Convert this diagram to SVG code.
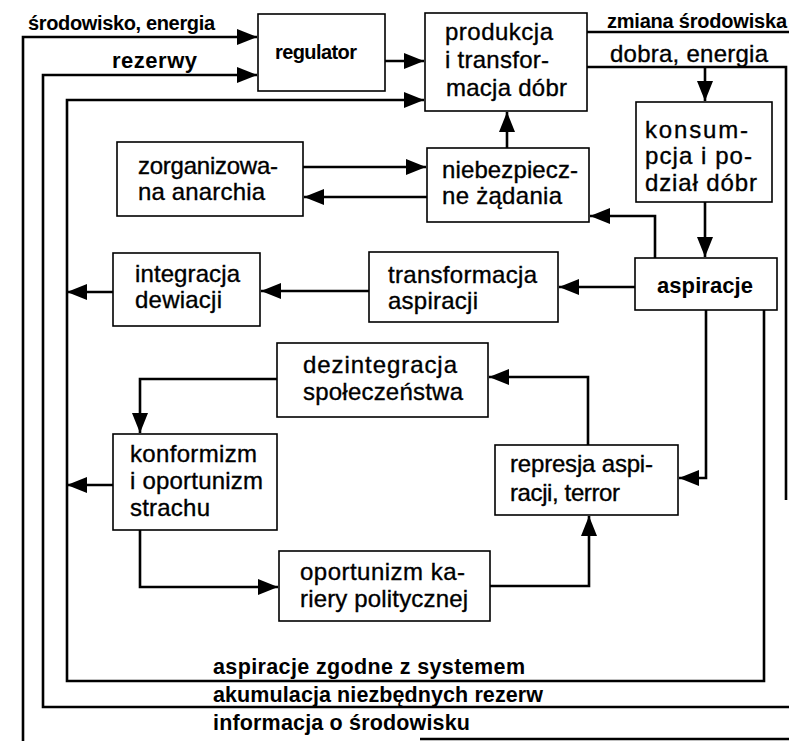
<svg xmlns="http://www.w3.org/2000/svg" width="789" height="741" viewBox="0 0 789 741">
<style>
.box{fill:#fff;stroke:#000;stroke-width:1.6}
.t{font-family:"Liberation Sans",Arial,Helvetica,sans-serif;font-size:24px;fill:#000;stroke:#000;stroke-width:0.35}
.b{font-weight:bold;stroke-width:0}
.lbl{font-family:"Liberation Sans",Arial,Helvetica,sans-serif;font-size:20px;font-weight:bold;fill:#000}
.big{font-size:21.5px}
.c{fill:none;stroke:#000;stroke-width:2.6;stroke-linejoin:miter}
</style>
<defs>
<marker id="ar" markerUnits="userSpaceOnUse" markerWidth="22" markerHeight="18" refX="20" refY="8" orient="auto" viewBox="0 0 22 18">
<path d="M0,0 L20,8 L0,16 z" fill="#000"/>
</marker>
</defs>
<rect width="789" height="741" fill="#fff"/>

<g id="connectors">
<path class="c" d="M23,745 V37 H257" marker-end="url(#ar)"/>
<path class="c" d="M789,707 H43 V75 H257" marker-end="url(#ar)"/>
<path class="c" d="M764,310 V681 H67 V100 H424" marker-end="url(#ar)"/>
<path class="c" d="M420,739 H789"/>
<path class="c" d="M587,32 H789"/>
<path class="c" d="M587,67 H786 V500"/>
<path class="c" d="M705,67 V101" marker-end="url(#ar)"/>
<path class="c" d="M385,61 H424" marker-end="url(#ar)"/>
<path class="c" d="M507,148 V112" marker-end="url(#ar)"/>
<path class="c" d="M303,167 H426" marker-end="url(#ar)"/>
<path class="c" d="M427,197 H304" marker-end="url(#ar)"/>
<path class="c" d="M705,202 V257" marker-end="url(#ar)"/>
<path class="c" d="M655,258 V216 H590" marker-end="url(#ar)"/>
<path class="c" d="M635,287 H559" marker-end="url(#ar)"/>
<path class="c" d="M369,291 H261" marker-end="url(#ar)"/>
<path class="c" d="M113,292 H67" marker-end="url(#ar)"/>
<path class="c" d="M706,310 V478 H679" marker-end="url(#ar)"/>
<path class="c" d="M588,445 V377 H489" marker-end="url(#ar)"/>
<path class="c" d="M277,379 H140 V433" marker-end="url(#ar)"/>
<path class="c" d="M113,485 H67" marker-end="url(#ar)"/>
<path class="c" d="M140,530 V587 H278" marker-end="url(#ar)"/>
<path class="c" d="M490,586 H589 V516" marker-end="url(#ar)"/>
</g>

<g id="labels">
<text class="lbl" x="28" y="30" textLength="187" lengthAdjust="spacing">środowisko, energia</text>
<text class="lbl" x="112" y="68" style="font-size:22px" textLength="85" lengthAdjust="spacing">rezerwy</text>
<text class="lbl" x="607" y="28" textLength="180" lengthAdjust="spacing">zmiana środowiska</text>
<text class="t" x="610" y="62" textLength="158" lengthAdjust="spacing">dobra, energia</text>
<text class="lbl big" x="213" y="674" textLength="312" lengthAdjust="spacing">aspiracje zgodne z systemem</text>
<text class="lbl big" x="213" y="702" textLength="330" lengthAdjust="spacing">akumulacja niezbędnych rezerw</text>
<text class="lbl big" x="213" y="730" textLength="257" lengthAdjust="spacing">informacja o środowisku</text>
</g>

<g id="regulator">
<rect class="box" x="258" y="14" width="127" height="77"/>
<text class="lbl" x="275" y="59" textLength="82" lengthAdjust="spacing">regulator</text>
</g>

<g id="produkcja">
<rect class="box" x="425" y="13" width="162" height="98"/>
<text class="t" x="445" y="40" textLength="108" lengthAdjust="spacing">produkcja</text>
<text class="t" x="445" y="68" textLength="104" lengthAdjust="spacing">i transfor-</text>
<text class="t" x="446" y="96" textLength="121" lengthAdjust="spacing">macja dóbr</text>
</g>

<g id="konsumpcja">
<rect class="box" x="636" y="102" width="136" height="100"/>
<text class="t" x="645" y="138" textLength="103" lengthAdjust="spacing">konsum-</text>
<text class="t" x="645" y="164" textLength="107" lengthAdjust="spacing">pcja i po-</text>
<text class="t" x="645" y="191" textLength="112" lengthAdjust="spacing">dział dóbr</text>
</g>

<g id="niebezpieczne">
<rect class="box" x="427" y="148" width="162" height="74"/>
<text class="t" x="442" y="178" textLength="136" lengthAdjust="spacing">niebezpiecz-</text>
<text class="t" x="442" y="204" textLength="120" lengthAdjust="spacing">ne żądania</text>
</g>

<g id="zorganizowana">
<rect class="box" x="117" y="142" width="186" height="74"/>
<text class="t" x="138" y="174" textLength="140" lengthAdjust="spacing">zorganizowa-</text>
<text class="t" x="138" y="200" textLength="127" lengthAdjust="spacing">na anarchia</text>
</g>

<g id="aspiracje">
<rect class="box" x="635" y="258" width="142" height="52"/>
<text class="t b" x="657" y="293" style="font-size:22px" textLength="96" lengthAdjust="spacing">aspiracje</text>
</g>

<g id="transformacja">
<rect class="box" x="369" y="252" width="189" height="70"/>
<text class="t" x="388" y="283" textLength="149" lengthAdjust="spacing">transformacja</text>
<text class="t" x="388" y="309" textLength="90" lengthAdjust="spacing">aspiracji</text>
</g>

<g id="integracja">
<rect class="box" x="113" y="253" width="147" height="73"/>
<text class="t" x="135" y="282" textLength="105" lengthAdjust="spacing">integracja</text>
<text class="t" x="135" y="308" textLength="87" lengthAdjust="spacing">dewiacji</text>
</g>

<g id="dezintegracja">
<rect class="box" x="277" y="343" width="211" height="74"/>
<text class="t" x="303" y="373" textLength="154" lengthAdjust="spacing">dezintegracja</text>
<text class="t" x="303" y="400" textLength="160" lengthAdjust="spacing">społeczeństwa</text>
</g>

<g id="konformizm">
<rect class="box" x="113" y="434" width="164" height="96"/>
<text class="t" x="130" y="462" textLength="127" lengthAdjust="spacing">konformizm</text>
<text class="t" x="130" y="489" textLength="133" lengthAdjust="spacing">i oportunizm</text>
<text class="t" x="130" y="516" textLength="80" lengthAdjust="spacing">strachu</text>
</g>

<g id="represja">
<rect class="box" x="495" y="445" width="183" height="70"/>
<text class="t" x="510" y="472" textLength="143" lengthAdjust="spacing">represja aspi-</text>
<text class="t" x="510" y="501" textLength="110" lengthAdjust="spacing">racji, terror</text>
</g>

<g id="oportunizm">
<rect class="box" x="279" y="551" width="211" height="70"/>
<text class="t" x="300" y="580" textLength="165" lengthAdjust="spacing">oportunizm ka-</text>
<text class="t" x="300" y="607" textLength="168" lengthAdjust="spacing">riery politycznej</text>
</g>
</svg>
